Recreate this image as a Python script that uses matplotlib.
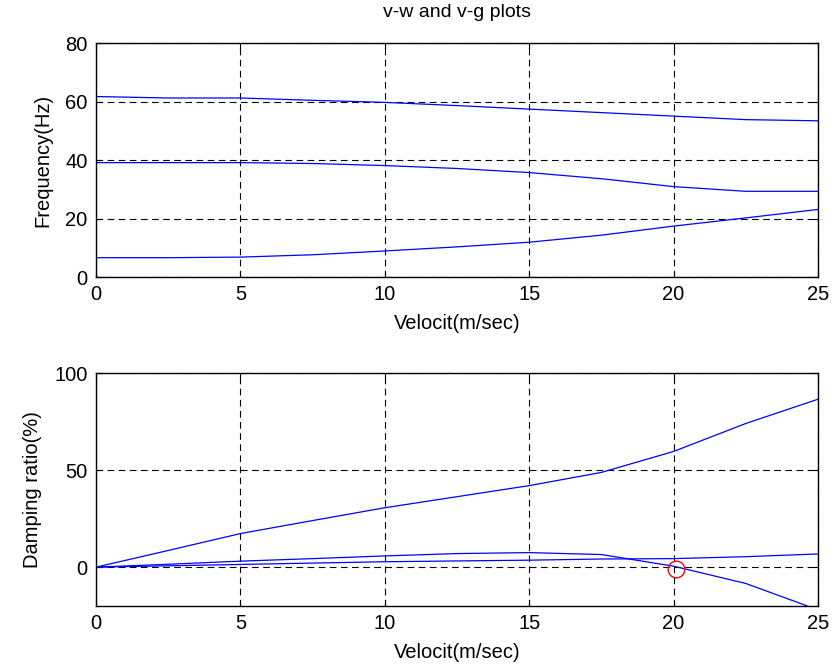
import matplotlib
matplotlib.use("Agg")
import matplotlib.pyplot as plt
import numpy as np

plt.rcParams["font.family"] = ["Liberation Sans", "DejaVu Sans"]

# velocity stations (m/sec)
velocity = [0, 2.5, 5, 7.5, 10, 12.5, 15, 17.5, 20, 22.5, 25]

# modal frequencies (Hz)
freq_mode1 = [6.6, 6.6, 6.8, 7.6, 8.9, 10.3, 11.9, 14.3, 17.4, 20.2, 23.1]
freq_mode2 = [39.1, 39.1, 39.1, 38.8, 38.1, 37.1, 35.7, 33.6, 30.9, 29.3, 29.3]
freq_mode3 = [61.7, 61.2, 61.2, 60.4, 59.7, 58.6, 57.4, 56.2, 55.0, 53.8, 53.4]

# damping ratios (%)
damp_mode1 = [0, 8.6, 17.3, 24.0, 30.6, 36.3, 42.0, 48.8, 59.6, 74.0, 86.5]
damp_mode2 = [0, 1.5, 3.1, 4.4, 5.8, 7.0, 7.5, 6.5, 0.5, -8.4, -22.0]
damp_mode3 = [0, 0.7, 1.4, 2.1, 2.8, 3.2, 3.6, 4.2, 4.4, 5.4, 6.8]

# flutter onset
flutter_v = 20.1
flutter_g = -1.0

W, H = 838, 664
fig = plt.figure(figsize=(W / 100, H / 100), dpi=100)

ax1 = fig.add_axes([96 / W, 1 - 277 / H, 722 / W, 234 / H])
ax2 = fig.add_axes([96 / W, 1 - 606 / H, 722 / W, 233 / H])

FS = 14.5

for f in (freq_mode1, freq_mode2, freq_mode3):
    ax1.plot(velocity, f, color="#0000ff", lw=0.9)
ax1.set_xlim(0, 25)
ax1.set_ylim(0, 80)
ax1.set_xticks([0, 5, 10, 15, 20, 25])
ax1.set_yticks([0, 20, 40, 60, 80])
ax1.set_xlabel("Velocit(m/sec)", fontsize=FS, labelpad=7)
ax1.set_ylabel("Frequency(Hz)", fontsize=FS, labelpad=9)
ax1.set_title("v-w and v-g plots", fontsize=14, pad=19)

for g in (damp_mode1, damp_mode2, damp_mode3):
    ax2.plot(velocity, g, color="#0000ff", lw=0.9)
ax2.plot([flutter_v], [flutter_g], "o", mfc="none", mec="red", ms=12, mew=1.0)
ax2.set_xlim(0, 25)
ax2.set_ylim(-20, 100)
ax2.set_xticks([0, 5, 10, 15, 20, 25])
ax2.set_yticks([0, 50, 100])
ax2.set_xlabel("Velocit(m/sec)", fontsize=FS, labelpad=7)
ax2.set_ylabel("Damping ratio(%)", fontsize=FS, labelpad=9)

for ax in (ax1, ax2):
    ax.grid(True, color="black", linestyle=(0, (6, 4)), lw=0.8)
    ax.tick_params(direction="in", length=4, labelsize=FS, pad=6,
                   top=True, right=True)
    for sp in ax.spines.values():
        sp.set_linewidth(1.0)

fig.savefig("out.png", dpi=100)
